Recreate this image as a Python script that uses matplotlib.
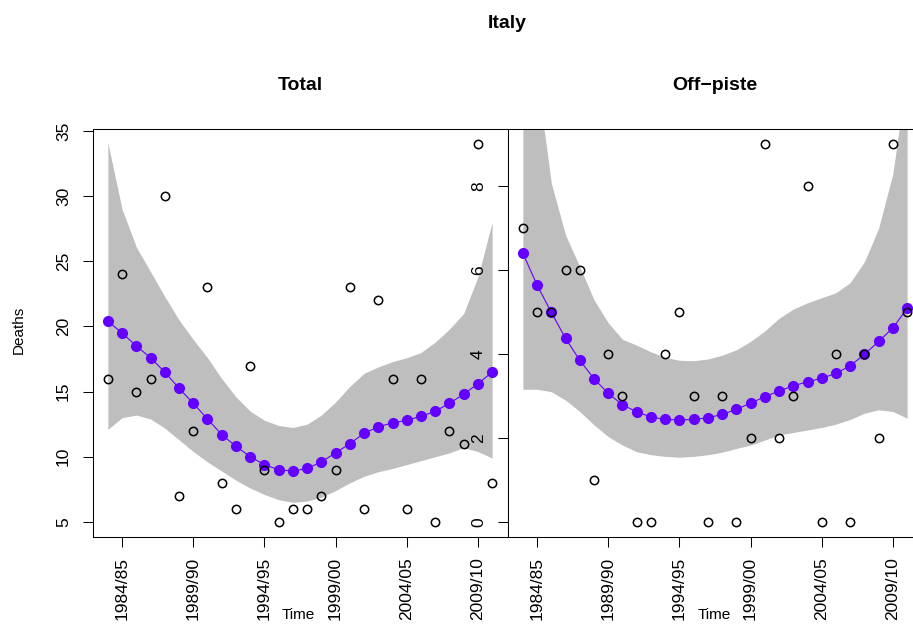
import matplotlib.pyplot as plt

plt.rcParams['font.family'] = ['Liberation Sans', 'DejaVu Sans']

# seasons (start year), one point per winter 1983/84 .. 2010/11
season_start = [1983, 1984, 1985, 1986, 1987, 1988, 1989, 1990, 1991, 1992,
                1993, 1994, 1995, 1996, 1997, 1998, 1999, 2000, 2001, 2002,
                2003, 2004, 2005, 2006, 2007, 2008, 2009, 2010]
tick_years = [1984, 1989, 1994, 1999, 2004, 2009]
tick_labels = ["1984/85", "1989/90", "1994/95", "1999/00", "2004/05", "2009/10"]

# Total deaths
total_deaths = [16, 24, 15, 16, 30, 7, 12, 23, 8, 6, 17, 9, 5, 6, 6, 7, 9, 23,
                6, 22, 16, 6, 16, 5, 12, 11, 34, 8]
total_fit = [20.4, 19.5, 18.5, 17.6, 16.5, 15.25, 14.1, 12.9, 11.7, 10.8, 10.0,
             9.4, 9.0, 8.9, 9.1, 9.6, 10.3, 11.0, 11.8, 12.3, 12.6, 12.8, 13.1,
             13.5, 14.1, 14.8, 15.6, 16.5]
total_lower = [12.1, 13.0, 13.2, 12.9, 12.2, 11.3, 10.4, 9.6, 8.9, 8.2, 7.6, 7.1,
               6.7, 6.5, 6.6, 6.9, 7.4, 8.0, 8.5, 8.85, 9.1, 9.4, 9.7, 10.0,
               10.3, 10.7, 10.4, 9.9]
total_upper = [34.1, 29.0, 26.1, 24.2, 22.3, 20.5, 19.0, 17.6, 16.0, 14.6, 13.5,
               12.8, 12.4, 12.25, 12.5, 13.2, 14.2, 15.4, 16.4, 16.9, 17.3, 17.6,
               18.0, 18.8, 19.8, 21.0, 23.8, 28.0]

# Off-piste deaths
offpiste_deaths = [7, 5, 5, 6, 6, 1, 4, 3, 0, 0, 4, 5, 3, 0, 3, 0, 2, 9, 2, 3,
                   8, 0, 4, 0, 4, 2, 9, 5]
offpiste_fit = [6.4, 5.64, 4.99, 4.37, 3.85, 3.41, 3.06, 2.79, 2.62, 2.5, 2.44,
                2.43, 2.44, 2.48, 2.56, 2.68, 2.83, 2.98, 3.12, 3.24, 3.34, 3.42,
                3.54, 3.72, 3.99, 4.3, 4.62, 5.09]
offpiste_lower = [3.16, 3.16, 3.1, 2.9, 2.63, 2.31, 2.03, 1.83, 1.67, 1.6, 1.56,
                  1.54, 1.56, 1.6, 1.66, 1.75, 1.83, 1.95, 2.07, 2.13, 2.19, 2.25,
                  2.33, 2.44, 2.59, 2.67, 2.63, 2.47]
offpiste_upper = [14.0, 10.6, 8.07, 6.83, 6.08, 5.29, 4.74, 4.35, 4.21, 4.05,
                  3.92, 3.85, 3.84, 3.88, 3.97, 4.1, 4.3, 4.55, 4.85, 5.07, 5.22,
                  5.34, 5.46, 5.7, 6.2, 7.0, 8.3, 10.7]

PURPLE = '#6300FF'
BAND = '#BEBEBE'

W, H = 913, 624
fig = plt.figure(figsize=(W / 100, H / 100), dpi=100)


def px_axes(x0, x1, top, bottom):
    return fig.add_axes([x0 / W, 1 - bottom / H, (x1 - x0) / W, (bottom - top) / H])


def panel(ax, obs, fit, lo, hi, yticks):
    ax.fill_between(season_start, lo, hi, color=BAND, lw=0, zorder=1)
    ax.plot(season_start, fit, '-o', color=PURPLE, lw=0.8, ms=7, zorder=2)
    ax.plot(season_start, obs, 'o', mfc='none', mec='black', ms=6, mew=1.1, zorder=3)

    # R style 4% padding on the data range
    xpad = 0.04 * (max(season_start) - min(season_start))
    ax.set_xlim(min(season_start) - xpad, max(season_start) + xpad)
    ypad = 0.04 * (max(obs) - min(obs))
    ax.set_ylim(min(obs) - ypad, max(obs) + ypad)

    ax.set_xticks(tick_years, tick_labels, rotation=90)
    ax.set_yticks(yticks, [str(v) for v in yticks], rotation=90, va='center')
    ax.tick_params(axis='x', length=7.5, width=0.75, pad=7, labelsize=12.5)
    ax.tick_params(axis='y', length=7.5, width=0.75, pad=8, labelsize=12.5)
    for sp in ax.spines.values():
        sp.set_linewidth(0.75)


ax1 = px_axes(92.5, 507.5, 129, 537)
panel(ax1, total_deaths, total_fit, total_lower, total_upper, [5, 10, 15, 20, 25, 30, 35])

# right panel runs past the canvas edge, as in the original
ax2 = px_axes(507.5, 922.5, 129, 537)
panel(ax2, offpiste_deaths, offpiste_fit, offpiste_lower, offpiste_upper, [0, 2, 4, 6, 8])

fig.text(507 / W, 1 - 23 / H, "Italy", ha='center', va='center', fontsize=14, fontweight='bold')
fig.text(300 / W, 1 - 86 / H, "Total", ha='center', va='center', fontsize=14, fontweight='bold')
fig.text(715 / W, 1 - 86 / H, "Off\u2212piste", ha='center', va='center', fontsize=14, fontweight='bold')

fig.text(19 / W, 1 - 330 / H, "Deaths", ha='center', va='center', rotation=90, fontsize=11)
fig.text(298 / W, 1 - 619 / H, "Time", ha='center', va='baseline', fontsize=11)
fig.text(714 / W, 1 - 619 / H, "Time", ha='center', va='baseline', fontsize=11)

fig.savefig("out.png", dpi=100)
